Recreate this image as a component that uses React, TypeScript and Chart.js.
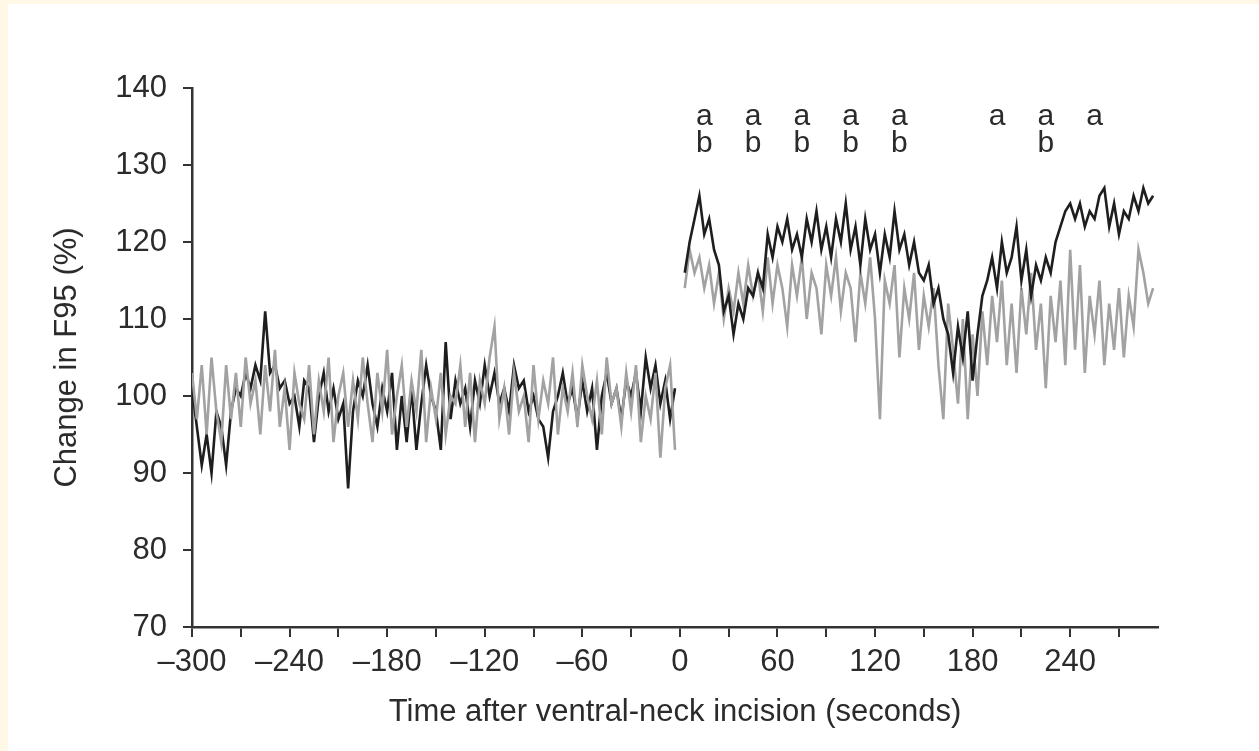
import React, { useEffect, useRef } from 'react';
import { Chart, registerables } from 'chart.js';

Chart.register(...registerables);

// Sampling of the traces (seconds)
const PRE_START = -300;
const POST_START = 3;
const STEP = 3;

// Dark trace, before the incision
const blackPre = [
  101, 96, 91, 95, 90, 98, 96, 91, 98, 101,
  100, 103, 101, 104, 102, 111, 103, 104, 101, 102,
  99, 100, 96, 102, 101, 94, 100, 103, 98, 101,
  97, 99, 88, 98, 102, 100, 104, 99, 96, 101,
  98, 103, 93, 100, 94, 101, 93, 99, 104, 100,
  98, 93, 107, 97, 102, 99, 101, 96, 102, 99,
  104, 100, 103, 99, 101, 98, 104, 101, 102, 98,
  100, 97, 96, 92, 98, 100, 103, 99, 101, 97,
  102, 98, 101, 93, 100, 103, 99, 101, 97, 102,
  100, 103, 98, 105, 101, 104, 99, 102, 97, 101,
];

// Grey trace, before the incision
const greyPre = [
  103, 97, 104, 95, 105, 98, 94, 104, 97, 103,
  96, 105, 99, 102, 95, 104, 98, 106, 96, 101,
  93, 103, 99, 97, 104, 95, 102, 98, 105, 94,
  100, 103, 96, 102, 97, 105, 99, 94, 103, 98,
  106, 95, 100, 104, 96, 102, 98, 106, 94, 101,
  97, 103, 95, 100, 99, 104, 96, 103, 94, 102,
  99, 105, 109, 97, 101, 95, 103, 98, 100, 94,
  104, 97, 102, 99, 105, 95, 101, 98, 103, 96,
  104, 100, 97, 102, 95, 105, 99, 101, 96, 103,
  98, 104, 94, 100, 97, 103, 92, 101, 104, 93,
];

// Dark trace, after the incision
const blackPost = [
  116, 120, 123, 126, 121, 123, 119, 117, 111, 113,
  108, 112, 110, 114, 113, 116, 114, 121, 118, 122,
  120, 123, 119, 121, 118, 123, 120, 124, 119, 122,
  118, 123, 120, 125, 119, 122, 117, 123, 119, 121,
  116, 121, 118, 124, 119, 121, 117, 120, 116, 115,
  117, 112, 114, 110, 108, 103, 109, 105, 111, 102,
  108, 113, 115, 118, 114, 120, 116, 118, 122, 115,
  119, 113, 117, 115, 118, 116, 120, 122, 124, 125,
  123, 125, 122, 124, 123, 126, 127, 122, 125, 121,
  124, 123, 126, 124, 127, 125, 126,
];

// Grey trace, after the incision
const greyPost = [
  114, 119, 116, 118, 114, 117, 112, 116, 110, 114,
  111, 116, 112, 117, 113, 116, 111, 118, 112, 117,
  114, 109, 117, 113, 118, 110, 116, 114, 108, 117,
  113, 118, 111, 116, 114, 107, 116, 112, 118, 110,
  97, 115, 112, 117, 105, 114, 110, 116, 106, 113,
  109, 114, 104, 97, 112, 106, 99, 110, 97, 108,
  100, 111, 104, 113, 107, 115, 104, 112, 103, 114,
  108, 116, 106, 112, 101, 113, 107, 115, 104, 119,
  106, 117, 103, 113, 108, 115, 104, 112, 106, 114,
  105, 113, 109, 119, 116, 112, 114,
];

// Axis ticks
const xTickValues = [-300, -240, -180, -120, -60, 0, 60, 120, 180, 240];
const xTickLabels = ['\u2013300', '\u2013240', '\u2013180', '\u2013120', '\u201360', '0', '60', '120', '180', '240'];
const yTickValues = [70, 80, 90, 100, 110, 120, 130, 140];

// Significance letters per 30-s bin
const annotationTimes = [15, 45, 75, 105, 135, 195, 225, 255];
const annotationA = ['a', 'a', 'a', 'a', 'a', 'a', 'a', 'a'];
const annotationB = ['b', 'b', 'b', 'b', 'b', '', 'b', ''];
const LETTER_A_LEVEL = 136.3;
const LETTER_B_LEVEL = 132.7;

const FONT = '"Liberation Sans", Arial, Helvetica, sans-serif';
const TEXT = '#2b2b2b';
const TICK_SIZE = 31;
const TITLE_SIZE = 31;

const toPoints = (vals: number[], start: number) =>
  vals.map((v, i) => ({ x: start + STEP * i, y: v }));

const lettersPlugin = {
  id: 'letters',
  afterDatasetsDraw(chart: any) {
    const { ctx, scales } = chart;
    const xs = scales.x;
    const ys = scales.y;
    ctx.save();
    ctx.fillStyle = TEXT;
    ctx.font = `30px ${FONT}`;
    ctx.textAlign = 'center';
    ctx.textBaseline = 'middle';
    annotationTimes.forEach((t, i) => {
      const px = xs.getPixelForValue(t);
      if (annotationA[i]) ctx.fillText(annotationA[i], px, ys.getPixelForValue(LETTER_A_LEVEL));
      if (annotationB[i]) ctx.fillText(annotationB[i], px, ys.getPixelForValue(LETTER_B_LEVEL));
    });
    ctx.restore();
  },
};

export default function App() {
  const ref = useRef<HTMLCanvasElement | null>(null);

  useEffect(() => {
    if (!ref.current) return;
    const line = (vals: number[], start: number, color: string, order: number) => ({
      data: toPoints(vals, start),
      borderColor: color,
      borderWidth: 2.6,
      pointRadius: 0,
      tension: 0,
      order,
    });
    const chart = new Chart(ref.current, {
      type: 'line',
      data: {
        datasets: [
          line(blackPost, POST_START, '#1e1e1e', 0),
          line(greyPost, POST_START, '#a2a2a2', 1),
          line(greyPre, PRE_START, '#a2a2a2', 2),
          line(blackPre, PRE_START, '#1e1e1e', 3),
        ],
      },
      options: {
        animation: false,
        responsive: false,
        maintainAspectRatio: false,
        parsing: false as any,
        layout: { padding: { left: 49, right: 101, top: 88, bottom: 0 } },
        plugins: {
          legend: { display: false },
          tooltip: { enabled: false },
          title: { display: false },
        },
        scales: {
          x: {
            type: 'linear',
            min: -300,
            max: 294,
            grid: {
              display: true,
              drawOnChartArea: false,
              drawTicks: true,
              tickLength: 10,
              color: '#333',
              lineWidth: 2,
            },
            border: { display: true, color: '#333', width: 2.5 },
            ticks: {
              stepSize: 30,
              includeBounds: false,
              autoSkip: false,
              maxRotation: 0,
              padding: 7,
              color: TEXT,
              font: { family: FONT, size: TICK_SIZE },
              callback: (v: any) => {
                const k = xTickValues.indexOf(Number(v));
                return k >= 0 ? xTickLabels[k] : '';
              },
            },
            title: {
              display: true,
              text: 'Time after ventral-neck incision (seconds)',
              color: TEXT,
              font: { family: FONT, size: TITLE_SIZE },
              padding: { top: 0, bottom: 20 },
            },
            afterFit: (s: any) => {
              s.height = 124;
            },
          },
          y: {
            type: 'linear',
            min: 70,
            max: 140,
            grid: {
              display: true,
              drawOnChartArea: false,
              drawTicks: true,
              tickLength: 9,
              color: '#333',
              lineWidth: 2,
            },
            border: { display: true, color: '#333', width: 2.5 },
            ticks: {
              stepSize: 10,
              autoSkip: false,
              padding: 16,
              color: TEXT,
              font: { family: FONT, size: TICK_SIZE },
              callback: (v: any) => (yTickValues.includes(Number(v)) ? String(v) : ''),
            },
            title: {
              display: true,
              text: 'Change in F95 (%)',
              color: TEXT,
              font: { family: FONT, size: TITLE_SIZE },
              padding: 0,
            },
            afterFit: (s: any) => {
              s.width = 143;
            },
          },
        },
      },
      plugins: [lettersPlugin],
    });
    return () => chart.destroy();
  }, []);

  return (
    <div
      style={{
        position: 'fixed',
        left: 0,
        top: 0,
        width: 1259,
        height: 751,
        background: '#fff8e7',
        overflow: 'hidden',
      }}
    >
      <div
        style={{
          position: 'absolute',
          left: 8,
          top: 4,
          right: 0,
          bottom: 0,
          background: '#ffffff',
        }}
      />
      <canvas
        ref={ref}
        width={1259}
        height={751}
        style={{ position: 'absolute', left: 0, top: 0, width: 1259, height: 751 }}
      />
    </div>
  );
}
